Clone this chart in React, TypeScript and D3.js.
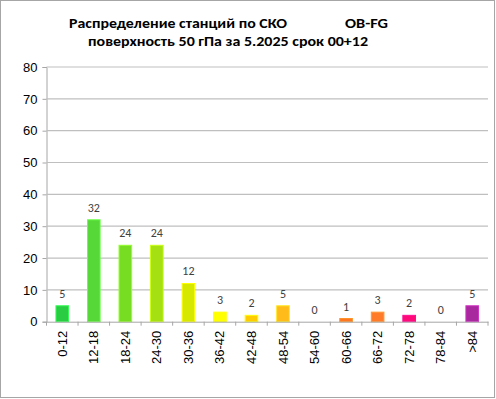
import React, { useRef, useEffect } from 'react';
import * as d3 from 'd3';

const categories = ['0-12', '12-18', '18-24', '24-30', '30-36', '36-42', '42-48', '48-54', '54-60', '60-66', '66-72', '72-78', '78-84', '>84'];
const counts = [5, 32, 24, 24, 12, 3, 2, 5, 0, 1, 3, 2, 0, 5];
const barColors = ['#2acc44', '#55d838', '#77dd22', '#a4e012', '#d6e800', '#ffff00', '#ffcc00', '#ffbb1a', '#ff9933', '#ff7722', '#ff7b2a', '#ff0a78', '#c03090', '#a8289e'];
const yTicks = [0, 10, 20, 30, 40, 50, 60, 70, 80];

const App = () => {
  const ref = useRef<SVGSVGElement>(null);

  useEffect(() => {
    if (!ref.current) return;
    const svg = d3.select(ref.current);
    svg.selectAll('*').remove();

    const left = 46.5;
    const right = 488;
    const top = 67;
    const bottom = 321.7;

    const x = d3.scaleBand<string>()
      .domain(categories)
      .range([left, right])
      .paddingInner(0.6)
      .paddingOuter(0.3);

    const xBand = d3.scaleBand<string>().domain(categories).range([left, right]);

    const y = d3.scaleLinear().domain([0, 80]).range([bottom, top]);

    // outer frame
    svg.append('rect')
      .attr('x', 0.5).attr('y', 0.5)
      .attr('width', 494).attr('height', 397)
      .attr('fill', '#fff')
      .attr('stroke', '#a6a6a6');

    // title
    const title = svg.append('g')
      .attr('font-family', 'Calibri, Carlito, "Open Sans", sans-serif')
      .attr('font-weight', 'bold')
      .attr('font-size', 14)
      .attr('fill', '#000');
    title.append('text').attr('x', 69).attr('y', 28)
      .attr('textLength', 218).attr('lengthAdjust', 'spacingAndGlyphs')
      .text('Распределение станций по СКО');
    title.append('text').attr('x', 345).attr('y', 28)
      .attr('textLength', 43).attr('lengthAdjust', 'spacingAndGlyphs')
      .text('OB-FG');
    title.append('text').attr('x', 88).attr('y', 46)
      .attr('textLength', 280).attr('lengthAdjust', 'spacingAndGlyphs')
      .text('поверхность 50 гПа за 5.2025 срок 00+12');

    // y axis with grid
    svg.append('g')
      .attr('transform', `translate(${left},0)`)
      .call(d3.axisLeft(y).tickValues(yTicks).tickSize(4).tickPadding(5))
      .call(g => g.select('.domain').attr('stroke', '#a6a6a6'))
      .call(g => g.selectAll('.tick line').attr('stroke', '#a6a6a6'))
      .call(g => g.selectAll('.tick text')
        .attr('font-family', '"Liberation Sans", Arial, sans-serif')
        .attr('font-size', 13)
        .attr('fill', '#000'));

    svg.append('g')
      .selectAll('line')
      .data(yTicks.filter(d => d > 0))
      .join('line')
      .attr('x1', left).attr('x2', right)
      .attr('y1', d => y(d)).attr('y2', d => y(d))
      .attr('stroke', '#bfbfbf')
      .attr('stroke-width', 1.2);

    // bars
    svg.append('g')
      .selectAll('rect')
      .data(counts)
      .join('rect')
      .attr('x', (_, i) => x(categories[i])!)
      .attr('width', x.bandwidth())
      .attr('y', d => y(d))
      .attr('height', d => bottom - y(d))
      .attr('fill', (_, i) => barColors[i])
      .attr('stroke', (_, i) => d3.color(barColors[i])!.brighter(0.6).formatHex())
      .attr('stroke-width', d => (d > 0 ? 1 : 0));

    // value labels
    svg.append('g')
      .selectAll('text')
      .data(counts)
      .join('text')
      .attr('x', (_, i) => x(categories[i])! + x.bandwidth() / 2)
      .attr('y', d => y(d) - 8)
      .attr('text-anchor', 'middle')
      .attr('font-family', 'Calibri, Carlito, "Liberation Sans", sans-serif')
      .attr('font-size', 12)
      .attr('fill', '#404040')
      .text(d => d);

    // x axis
    svg.append('g')
      .attr('transform', `translate(0,${bottom})`)
      .call(d3.axisBottom(xBand).tickSize(0).tickFormat(() => ''))
      .call(g => g.select('.domain').attr('stroke', '#a6a6a6'));

    svg.append('g')
      .selectAll('line')
      .data(d3.range(categories.length + 1))
      .join('line')
      .attr('x1', i => left + i * xBand.bandwidth())
      .attr('x2', i => left + i * xBand.bandwidth())
      .attr('y1', bottom).attr('y2', bottom + 4)
      .attr('stroke', '#a6a6a6');

    svg.append('g')
      .selectAll('text')
      .data(categories)
      .join('text')
      .attr('transform', d => `translate(${xBand(d)! + xBand.bandwidth() / 2 + 4.5},${bottom + 9}) rotate(-90)`)
      .attr('text-anchor', 'end')
      .attr('font-family', '"Liberation Sans", Arial, sans-serif')
      .attr('font-size', 13)
      .attr('fill', '#000')
      .text(d => d);
  }, []);

  return <svg ref={ref} width={496} height={399} style={{ position: 'absolute', left: 0, top: 0 }} />;
};

export default App;
